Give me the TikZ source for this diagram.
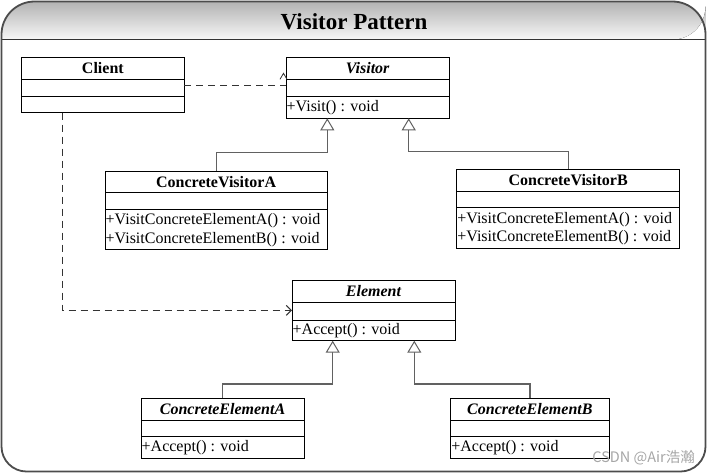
\documentclass[tikz,border=0pt]{standalone}
\usepackage{fontspec}
\setmainfont{Liberation Serif}
\newfontfamily\cjkfont{Noto Sans CJK SC}
\usetikzlibrary{arrows.meta,calc}
\tikzset{
  classbox/.style={draw=black, line width=0.8pt, fill=white, inner sep=0pt, outer sep=0pt},
  sepline/.style={draw=black, line width=0.8pt},
  cltitle/.style={font=\fontsize{16}{18}\selectfont\bfseries, inner sep=0pt, anchor=base},
  cltitleit/.style={font=\fontsize{16}{18}\selectfont\bfseries\itshape, inner sep=0pt, anchor=base},
  clops/.style={font=\fontsize{16}{18}\selectfont, inner sep=0pt, anchor=base west},
  inh/.style={draw=black!62, line width=1.3pt,
    -{Triangle[length=12pt, width=14pt, fill=white, line width=1pt]}},
  dep/.style={draw=black!80, line width=1pt, dash pattern=on 7pt off 5pt},
  framestyle/.style={draw=black!70, line width=1.8pt},
}
% name, x, y, w, h1, h2, h3
\newcommand{\umlclass}[7]{%
  \node[classbox, minimum width=#4pt, minimum height=#5pt+#6pt+#7pt, anchor=north west] (#1) at (#2,#3) {};
  \draw[sepline] ($(#1.north west)+(0,#5)$) -- ($(#1.north east)+(0,#5)$);
  \draw[sepline] ($(#1.north west)+(0,#5+#6)$) -- ($(#1.north east)+(0,#5+#6)$);
}
\begin{document}
\begin{tikzpicture}[x=1pt,y=-1pt]
\useasboundingbox (0,0) rectangle (709,474);
% title band
\fill[top color=black!30, bottom color=black!3]
  (1.5,39.5) [rounded corners=33pt] |- (354,1.5) -| (705.5,39.5) [sharp corners] -- cycle;
\draw[black!80, line width=1pt] (1.5,39.5) -- (705.5,39.5);
% frame
\draw[framestyle] (1.5,250) [rounded corners=33pt] |- (354,1.5) -| (705.5,250)
  [rounded corners=25pt] |- (354,471.5) -| cycle;
\node[font=\bfseries\fontsize{23}{23}\selectfont, inner sep=0pt, anchor=base] (title) at (354,29) {Visitor Pattern};

% classes
\umlclass{client}{21.7}{57.3}{162.3}{22}{16.7}{16.7}
\node[cltitle] (client-t) at ($(client.north)+(0,16.3)$) {Client};

\umlclass{visitor}{286}{57.3}{163.3}{22}{16.7}{22.3}
\node[cltitleit] (visitor-t) at ($(visitor.north)+(0,16.3)$) {Visitor};
\node[clops] (visitor-o1) at ($(visitor.north west)+(0.5,38.7+15.3)$) {+Visit() : void};

\umlclass{cva}{105}{171}{222.3}{21.7}{16.6}{40}
\node[cltitle] (cva-t) at ($(cva.north)+(0,16.3)$) {ConcreteVisitorA};
\node[clops] (cva-o1) at ($(cva.north west)+(0.5,38.3+15.3)$) {+VisitConcreteElementA() : void};
\node[clops] (cva-o2) at ($(cva.north west)+(0.5,38.3+33.8)$) {+VisitConcreteElementB() : void};

\umlclass{cvb}{456.7}{169}{223}{22}{16.7}{40.6}
\node[cltitle] (cvb-t) at ($(cvb.north)+(0,16.3)$) {ConcreteVisitorB};
\node[clops] (cvb-o1) at ($(cvb.north west)+(0.5,38.7+15.3)$) {+VisitConcreteElementA() : void};
\node[clops] (cvb-o2) at ($(cvb.north west)+(0.5,38.7+33.8)$) {+VisitConcreteElementB() : void};

\umlclass{element}{292}{280}{163}{22.3}{17.7}{20.7}
\node[cltitleit] (element-t) at ($(element.north)+(0,16.5)$) {Element};
\node[clops] (element-o1) at ($(element.north west)+(0.5,40+14.8)$) {+Accept() : void};

\umlclass{cea}{141}{398}{163}{22}{16.5}{21.8}
\node[cltitleit] (cea-t) at ($(cea.north)+(0,16.3)$) {ConcreteElementA};
\node[clops] (cea-o1) at ($(cea.north west)+(0.5,38.5+15)$) {+Accept() : void};

\umlclass{ceb}{450.7}{398}{158.3}{22}{16.7}{21.6}
\node[cltitleit] (ceb-t) at ($(ceb.north)+(0,16.3)$) {ConcreteElementB};
\node[clops] (ceb-o1) at ($(ceb.north west)+(0.5,38.7+15)$) {+Accept() : void};

% dependencies
\draw[dep] (client.east) -- (client.east -| visitor.west);
\draw[black!80, line width=0.8pt] ($(visitor.north west)+(-6,22)$) -- ($(visitor.north west)+(-2.5,16)$) -- ($(visitor.north west)+(1,22)$);
\draw[dep, -{Straight Barb[length=5pt, width=10pt, line width=1pt]}]
  ($(client.south west)+(40.6,0)$) |- (element.west);

% inheritance
\draw[inh] (cva.north) -- ++(0,-18.3) -| ($(visitor.south west)+(41.3,0)$);
\draw[inh] (cvb.north) -- ++(0,-17.3) -| ($(visitor.south east)+(-40.6,0)$);
\draw[inh] (cea.north) -- ++(0,-14) -| ($(element.south west)+(40.7,0)$);
\draw[inh] (ceb.north) -- ++(0,-14) -| ($(element.south east)+(-40.7,0)$);

% watermark
\node[font=\cjkfont\fontsize{14.5}{14.5}\selectfont, text=black!35, inner sep=0pt, anchor=east] (wm) at (695,458) {CSDN @Air浩瀚};
\end{tikzpicture}
\end{document}
